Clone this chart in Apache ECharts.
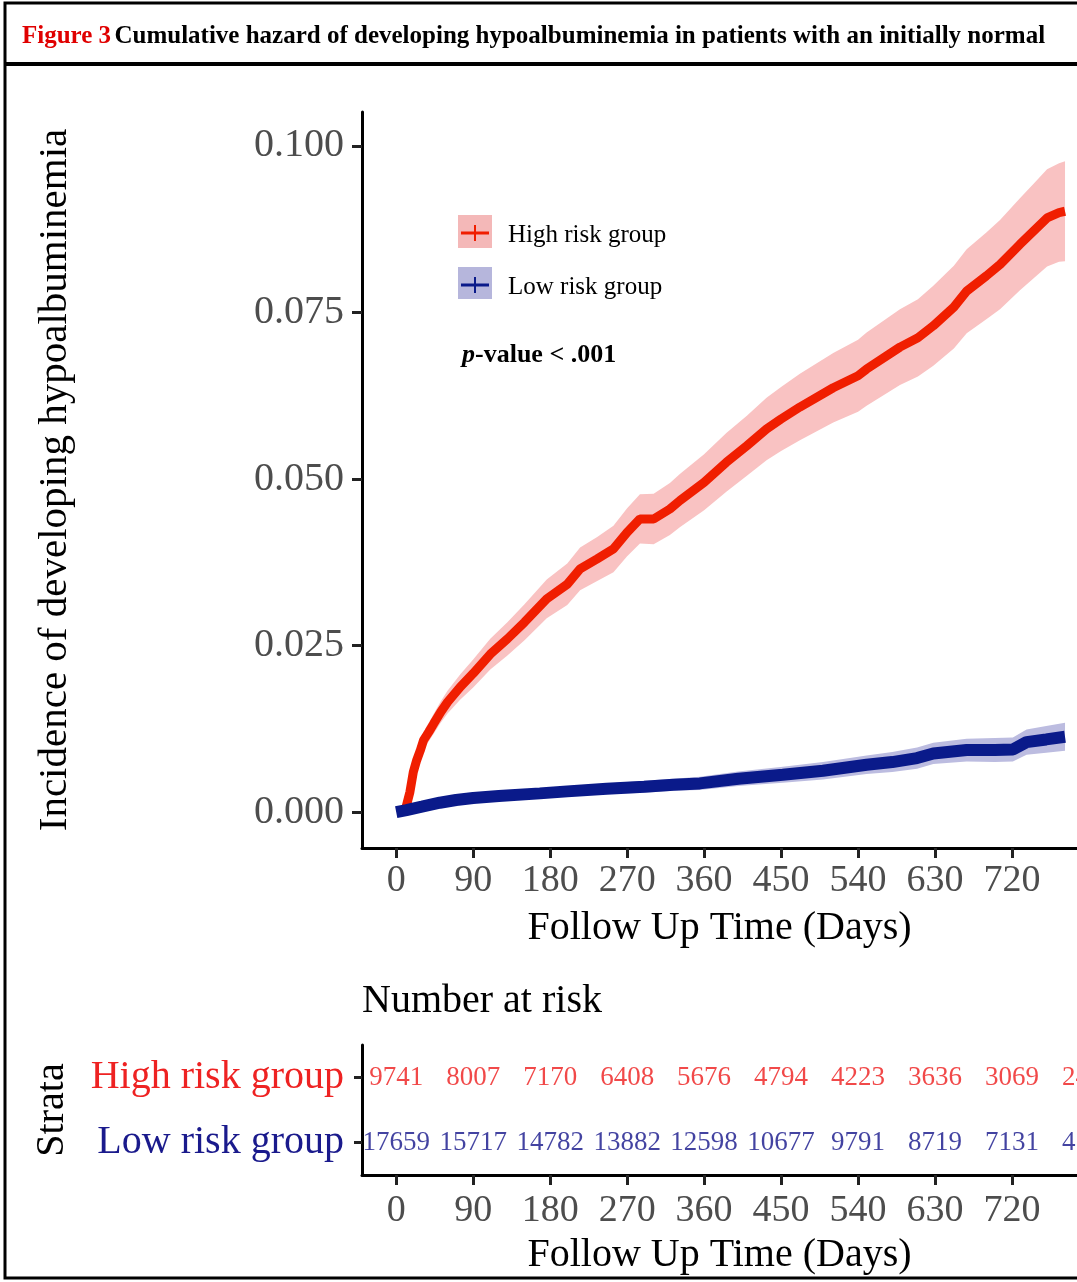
<!DOCTYPE html>
<html>
<head>
<meta charset="utf-8">
<script src="https://cdn.jsdelivr.net/npm/echarts@6/dist/echarts.min.js"></script>
<style>
  html, body { margin: 0; padding: 0; background: #fff; }
  #main { width: 1077px; height: 1282px; }
</style>
</head>
<body>
<div id="main"></div>
<script>
// 高风险组 累积风险 + 置信区间
var redDays = [10, 13, 16, 20, 24, 28, 32, 38, 44, 52, 60, 75, 90, 110, 130, 150, 176, 200, 215, 235, 254, 270, 285, 301, 320, 332, 360, 386, 410, 433, 450, 472, 511, 540, 550, 589, 610, 628, 652, 667, 690, 706, 729, 745, 761, 775, 782];
var redVal  = [0.0000, 0.0015, 0.0030, 0.0060, 0.0078, 0.0092, 0.0108, 0.0120, 0.0133, 0.0150, 0.0165, 0.0188, 0.0208, 0.0237, 0.0260, 0.0285, 0.0320, 0.0342, 0.0365, 0.0380, 0.0395, 0.0420, 0.0440, 0.0440, 0.0455, 0.0468, 0.0495, 0.0525, 0.0550, 0.0575, 0.0590, 0.0608, 0.0637, 0.0655, 0.0665, 0.0698, 0.0712, 0.0730, 0.0758, 0.0782, 0.0805, 0.0822, 0.0852, 0.0872, 0.0892, 0.0900, 0.0902];
var redLow  = [0.0000, 0.0010, 0.0022, 0.0050, 0.0067, 0.0080, 0.0095, 0.0106, 0.0118, 0.0134, 0.0148, 0.0169, 0.0187, 0.0214, 0.0235, 0.0258, 0.0291, 0.0311, 0.0333, 0.0347, 0.0360, 0.0384, 0.0403, 0.0402, 0.0416, 0.0428, 0.0453, 0.0481, 0.0505, 0.0528, 0.0542, 0.0558, 0.0585, 0.0601, 0.0610, 0.0641, 0.0654, 0.0670, 0.0696, 0.0719, 0.0740, 0.0755, 0.0783, 0.0801, 0.0819, 0.0826, 0.0827];
var redHigh = [0.0000, 0.0020, 0.0038, 0.0070, 0.0089, 0.0104, 0.0121, 0.0134, 0.0148, 0.0166, 0.0182, 0.0207, 0.0229, 0.0260, 0.0285, 0.0312, 0.0349, 0.0373, 0.0397, 0.0413, 0.0430, 0.0456, 0.0477, 0.0478, 0.0494, 0.0508, 0.0537, 0.0569, 0.0595, 0.0622, 0.0638, 0.0658, 0.0689, 0.0709, 0.0720, 0.0755, 0.0770, 0.0790, 0.0820, 0.0845, 0.0870, 0.0889, 0.0921, 0.0943, 0.0965, 0.0974, 0.0977];

// 低风险组
var blueDays = [0, 12, 30, 51, 70, 90, 120, 168, 200, 246, 290, 324, 355, 400, 452, 499, 550, 580, 609, 628, 667, 700, 721, 737, 760, 782];
var blueVal  = [0.0000, 0.0003, 0.0008, 0.0014, 0.0018, 0.0021, 0.0024, 0.0028, 0.0031, 0.0035, 0.0038, 0.0041, 0.0043, 0.0050, 0.0056, 0.0062, 0.0071, 0.0075, 0.0081, 0.0088, 0.0093, 0.0093, 0.0094, 0.0105, 0.0109, 0.0113];
var blueLow  = [0.0000, 0.0001, 0.0005, 0.0010, 0.0013, 0.0016, 0.0018, 0.0021, 0.0024, 0.0027, 0.0029, 0.0032, 0.0033, 0.0039, 0.0044, 0.0049, 0.0057, 0.0060, 0.0065, 0.0072, 0.0076, 0.0075, 0.0076, 0.0086, 0.0089, 0.0092];
var blueHigh = [0.0000, 0.0005, 0.0011, 0.0018, 0.0023, 0.0026, 0.0030, 0.0035, 0.0038, 0.0043, 0.0047, 0.0050, 0.0053, 0.0061, 0.0068, 0.0075, 0.0085, 0.0090, 0.0097, 0.0104, 0.0110, 0.0111, 0.0112, 0.0124, 0.0129, 0.0134];

// 刻度
var xTicks = [0, 90, 180, 270, 360, 450, 540, 630, 720];
var yTicks = [0, 0.025, 0.05, 0.075, 0.1];

// Number at risk 表
var strata = ['Low risk group', 'High risk group'];
var riskDays = [0, 90, 180, 270, 360, 450, 540, 630, 720, 810];
var highRisk = [9741, 8007, 7170, 6408, 5676, 4794, 4223, 3636, 3069, 2496];
var lowRisk = [17659, 15717, 14782, 13882, 12598, 10677, 9791, 8719, 7131, 4523];

var FONT = '"Liberation Serif", "Times New Roman", serif';
var RED = '#f01e00', BLUE = '#0a1a8a';

function pairs(xs, ys) {
    return xs.map(function(x, i) { return [x, ys[i]]; });
}
function bandRows(xs, lo, hi) {
    return xs.map(function(x, i) { return [x, lo[i], hi[i]]; });
}
function riskRow(name, vals) {
    return riskDays.map(function(d, i) { return [d, name, vals[i]]; });
}

// 置信带: 在第一个数据项里画整个多边形
function bandRender(color) {
    return function(params, api) {
        if (params.dataIndexInside !== 0) return null;
        var n = params.dataInsideLength;
        var top = [], bottom = [];
        for (var j = 0; j < n; j++) {
            top.push(api.coord([api.value(0, j), api.value(2, j)]));
            bottom.unshift(api.coord([api.value(0, j), api.value(1, j)]));
        }
        return {
            type: 'polygon',
            shape: { points: top.concat(bottom) },
            style: { fill: color }
        };
    };
}

var xAxisBase = {
    type: 'value',
    min: -40,
    max: 796,
    splitLine: { show: false },
    axisLine: { show: true, onZero: false, lineStyle: { color: '#000', width: 3 } },
    axisTick: { show: true, length: 10, customValues: xTicks, lineStyle: { color: '#222', width: 3 } },
    axisLabel: { customValues: xTicks, fontFamily: FONT, fontSize: 38, color: '#4d4d4d', margin: 14 },
    name: 'Follow Up Time (Days)',
    nameLocation: 'middle',
    nameGap: 60,
    nameTextStyle: { fontFamily: FONT, fontSize: 40, color: '#000' }
};

var myChart = echarts.init(document.getElementById('main'));

var option = {
    animation: false,
    backgroundColor: '#fff',
    grid: [
        { left: 362, top: 112, right: 0, height: 736 },
        { left: 362, top: 1045, right: 0, height: 130 }
    ],
    xAxis: [
        Object.assign({ gridIndex: 0 }, xAxisBase),
        Object.assign({ gridIndex: 1 }, xAxisBase, { axisLabel: Object.assign({}, xAxisBase.axisLabel, { margin: 17 }) })
    ],
    yAxis: [
        {
            gridIndex: 0,
            type: 'value',
            min: -0.0054,
            max: 0.1051,
            splitLine: { show: false },
            axisLine: { show: true, onZero: false, lineStyle: { color: '#000', width: 3 } },
            axisTick: { show: true, length: 10, customValues: yTicks, lineStyle: { color: '#222', width: 3 } },
            axisLabel: {
                customValues: yTicks,
                fontFamily: FONT, fontSize: 40, color: '#4d4d4d', margin: 18,
                formatter: function(v) { return v.toFixed(3); }
            },
            name: 'Incidence of developing hypoalbuminemia',
            nameLocation: 'middle',
            nameRotate: 90,
            nameGap: 286,
            nameTextStyle: { fontFamily: FONT, fontSize: 41, color: '#000' }
        },
        {
            gridIndex: 1,
            type: 'category',
            data: strata,
            splitLine: { show: false },
            axisLine: { show: true, onZero: false, lineStyle: { color: '#000', width: 3 } },
            axisTick: { show: true, length: 8, alignWithLabel: true, lineStyle: { color: '#222', width: 3 } },
            axisLabel: {
                fontFamily: FONT, fontSize: 40, margin: 18,
                color: function(v) { return v === 'High risk group' ? '#ee2222' : '#1a1a8c'; }
            },
            name: 'Strata',
            nameLocation: 'middle',
            nameRotate: 90,
            nameGap: 290,
            nameTextStyle: { fontFamily: FONT, fontSize: 40, color: '#000' }
        }
    ],
    graphic: [
        // 外框
        { type: 'rect', shape: { x: 5, y: 3, width: 1100, height: 1275 }, style: { fill: 'none', stroke: '#000', lineWidth: 3 }, silent: true },
        { type: 'line', shape: { x1: 5, y1: 64, x2: 1077, y2: 64 }, style: { stroke: '#000', lineWidth: 4 }, silent: true },
        {
            type: 'text', x: 22, y: 37,
            style: {
                text: '{a|Figure 3} {b|Cumulative hazard of developing hypoalbuminemia in patients with an initially normal}',
                verticalAlign: 'middle',
                rich: {
                    a: { fontFamily: FONT, fontSize: 25, fontWeight: 'bold', fill: '#e00000' },
                    b: { fontFamily: FONT, fontSize: 25, fontWeight: 'bold', fill: '#000' }
                }
            }
        },
        // 图例
        { type: 'rect', shape: { x: 458, y: 215, width: 34, height: 33 }, style: { fill: '#f4b8b8' } },
        { type: 'line', shape: { x1: 461, y1: 233, x2: 489, y2: 233 }, style: { stroke: RED, lineWidth: 3 } },
        { type: 'line', shape: { x1: 475, y1: 225, x2: 475, y2: 241 }, style: { stroke: RED, lineWidth: 2 } },
        { type: 'text', x: 508, y: 235, style: { text: 'High risk group', fontFamily: FONT, fontSize: 25, fill: '#000', verticalAlign: 'middle' } },
        { type: 'rect', shape: { x: 458, y: 267, width: 34, height: 32 }, style: { fill: '#b6b6dc' } },
        { type: 'line', shape: { x1: 461, y1: 285, x2: 489, y2: 285 }, style: { stroke: BLUE, lineWidth: 3 } },
        { type: 'line', shape: { x1: 475, y1: 277, x2: 475, y2: 293 }, style: { stroke: BLUE, lineWidth: 2 } },
        { type: 'text', x: 508, y: 287, style: { text: 'Low risk group', fontFamily: FONT, fontSize: 25, fill: '#000', verticalAlign: 'middle' } },
        {
            type: 'text', x: 462, y: 355,
            style: {
                text: '{i|p}{b|-value < .001}',
                verticalAlign: 'middle',
                rich: {
                    i: { fontFamily: FONT, fontSize: 26, fontWeight: 'bold', fontStyle: 'italic', fill: '#000' },
                    b: { fontFamily: FONT, fontSize: 26, fontWeight: 'bold', fill: '#000' }
                }
            }
        },
        { type: 'text', x: 362, y: 1001, style: { text: 'Number at risk', fontFamily: FONT, fontSize: 40, fill: '#000', verticalAlign: 'middle' } }
    ],
    series: [
        // 置信区间
        { type: 'custom', data: bandRows(redDays, redLow, redHigh), renderItem: bandRender('#f9c2c2'), silent: true, z: 1 },
        { type: 'custom', data: bandRows(blueDays, blueLow, blueHigh), renderItem: bandRender('#bcbce0'), silent: true, z: 1 },
        // 曲线
        { name: 'High risk group', type: 'line', data: pairs(redDays, redVal), symbol: 'none', lineStyle: { color: RED, width: 9 }, z: 2 },
        { name: 'Low risk group', type: 'line', data: pairs(blueDays, blueVal), symbol: 'none', lineStyle: { color: BLUE, width: 12 }, z: 3 },
        // 风险人数
        {
            type: 'scatter', xAxisIndex: 1, yAxisIndex: 1, symbolSize: 0, clip: false, silent: true,
            data: riskRow('High risk group', highRisk),
            label: { show: true, position: 'inside', formatter: function(p) { return p.value[2]; }, fontFamily: FONT, fontSize: 27, color: '#ee1c1c' }
        },
        {
            type: 'scatter', xAxisIndex: 1, yAxisIndex: 1, symbolSize: 0, clip: false, silent: true,
            data: riskRow('Low risk group', lowRisk),
            label: { show: true, position: 'inside', formatter: function(p) { return p.value[2]; }, fontFamily: FONT, fontSize: 27, color: '#14148a' }
        }
    ]
};

myChart.setOption(option);
</script>
</body>
</html>
